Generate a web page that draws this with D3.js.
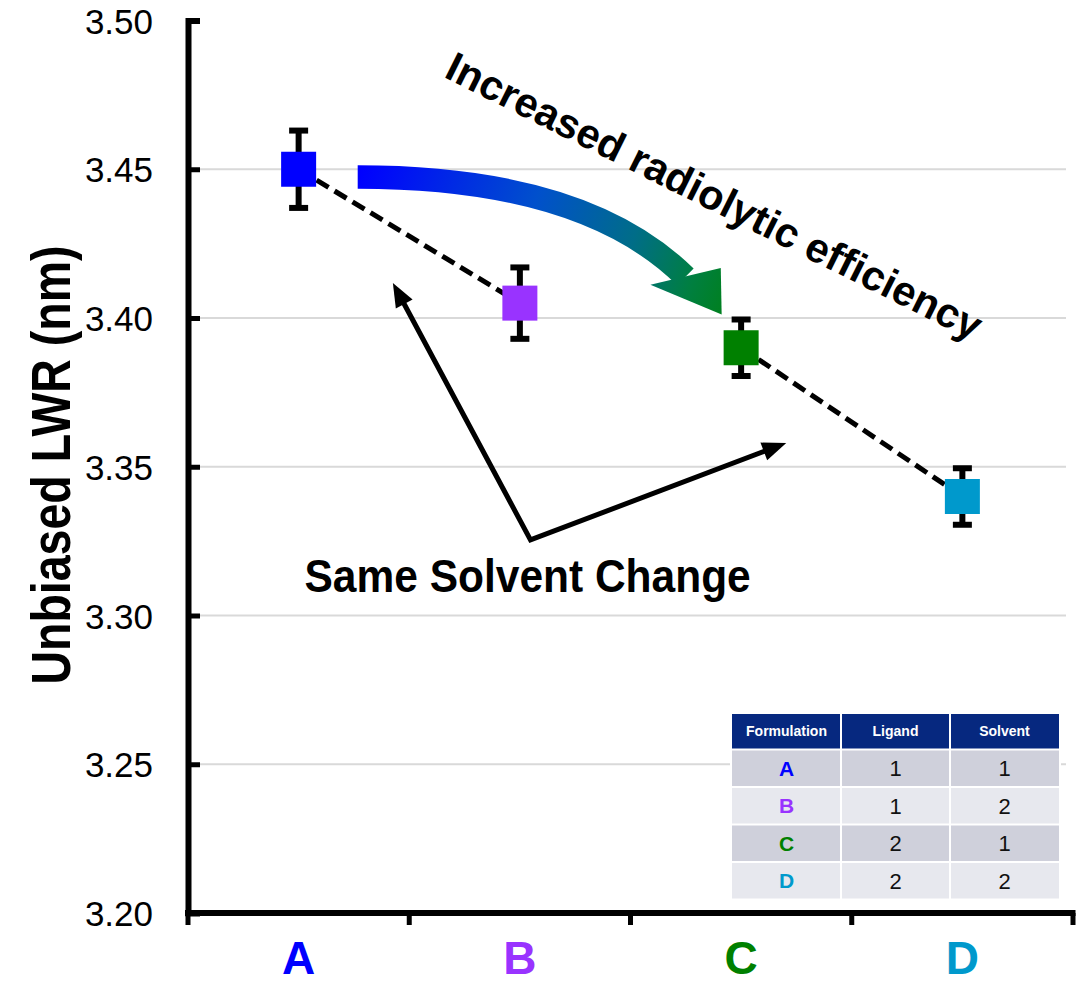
<!DOCTYPE html>
<html>
<head>
<meta charset="utf-8">
<script src="https://cdn.jsdelivr.net/npm/d3@7"></script>
<style>
  body { margin: 0; background: #fff; }
  svg { display: block; font-family: Arial, "Liberation Sans", sans-serif; }
</style>
</head>
<body>
<svg id="chart" width="1076" height="985"></svg>
<script>
// data
const cats = ['A', 'B', 'C', 'D'];
const lwr = [3.450, 3.405, 3.390, 3.340];
const errUp = [0.013, 0.012, 0.0095, 0.0095];
const errDown = [0.013, 0.012, 0.0095, 0.0095];
const catColors = ['#0000ff', '#9933ff', '#008000', '#0099cc'];
const yTicks = [3.20, 3.25, 3.30, 3.35, 3.40, 3.45, 3.50];
const gridTicks = [3.25, 3.30, 3.35, 3.40, 3.45];
const dashedPairs = [[0, 1], [2, 3]];

const tableHeader = ['Formulation', 'Ligand', 'Solvent'];
const ligand = [1, 1, 2, 2];
const solvent = [1, 2, 1, 2];

const svg = d3.select('#chart');

const x = d3.scaleBand().domain(cats).range([188, 1073]).padding(0);
const y = d3.scaleLinear().domain([3.20, 3.50]).range([913, 20.5]);

// fractional category index -> pixel, for annotations
const xi = i => x(cats[0]) + x.bandwidth() / 2 + i * x.step();
const pt = ([i, v]) => [xi(i), y(v)];

// gridlines
svg.append('g')
  .selectAll('line')
  .data(gridTicks)
  .join('line')
  .attr('x1', 188).attr('x2', 1066)
  .attr('y1', d => y(d)).attr('y2', d => y(d))
  .attr('stroke', '#d9d9d9')
  .attr('stroke-width', 2);

// dashed connectors
svg.append('g')
  .selectAll('line')
  .data(dashedPairs)
  .join('line')
  .attr('x1', d => x(cats[d[0]]) + x.bandwidth() / 2)
  .attr('y1', d => y(lwr[d[0]]))
  .attr('x2', d => x(cats[d[1]]) + x.bandwidth() / 2)
  .attr('y2', d => y(lwr[d[1]]))
  .attr('stroke', '#000')
  .attr('stroke-width', 5)
  .attr('stroke-dasharray', '14,7');

// error bars
const eb = svg.append('g').attr('stroke', '#000').attr('stroke-width', 6);
cats.forEach((c, i) => {
  const cx = x(c) + x.bandwidth() / 2;
  const top = y(lwr[i] + errUp[i]);
  const bot = y(lwr[i] - errDown[i]);
  eb.append('line').attr('x1', cx).attr('x2', cx).attr('y1', top).attr('y2', bot);
  eb.append('line').attr('x1', cx - 9.5).attr('x2', cx + 9.5).attr('y1', top).attr('y2', top);
  eb.append('line').attr('x1', cx - 9.5).attr('x2', cx + 9.5).attr('y1', bot).attr('y2', bot);
});

// markers
const MS = 35;
svg.append('g')
  .selectAll('rect')
  .data(cats)
  .join('rect')
  .attr('x', d => x(d) + x.bandwidth() / 2 - MS / 2)
  .attr('y', (d, i) => y(lwr[i]) - MS / 2)
  .attr('width', MS).attr('height', MS)
  .attr('fill', (d, i) => catColors[i]);

// y axis
const yAxis = svg.append('g')
  .attr('transform', 'translate(188,0)')
  .call(d3.axisLeft(y)
    .tickValues(yTicks)
    .tickFormat(d3.format('.2f'))
    .tickSizeInner(-12)
    .tickSizeOuter(-12)
    .tickPadding(35));
yAxis.select('.domain').attr('stroke-width', 6);
yAxis.selectAll('.tick line').attr('stroke-width', 5);
yAxis.selectAll('.tick text')
  .attr('font-size', 35)
  .attr('font-family', 'Arial, "Liberation Sans", sans-serif')
  .attr('fill', '#000')
  .attr('dy', '0.36em');

// x axis: line, ticks at band edges, coloured labels
const edges = d3.range(cats.length + 1).map(i => x.range()[0] + i * x.step());
const xg = svg.append('g');
xg.append('line')
  .attr('x1', edges[0] - 3).attr('x2', edges[edges.length - 1] + 2.5)
  .attr('y1', y(3.20)).attr('y2', y(3.20))
  .attr('stroke', '#000').attr('stroke-width', 6);
xg.selectAll('line.edge')
  .data(edges)
  .join('line')
  .attr('class', 'edge')
  .attr('x1', d => d).attr('x2', d => d)
  .attr('y1', y(3.20)).attr('y2', y(3.20) + 12)
  .attr('stroke', '#000').attr('stroke-width', 5);
xg.selectAll('text')
  .data(cats)
  .join('text')
  .attr('x', d => x(d) + x.bandwidth() / 2)
  .attr('y', 974)
  .attr('text-anchor', 'middle')
  .attr('font-size', 46)
  .attr('font-weight', 'bold')
  .attr('fill', (d, i) => catColors[i])
  .text(d => d);

// y axis title
svg.append('text')
  .attr('transform', 'translate(70,465) rotate(-90) scale(1,1.2)')
  .attr('text-anchor', 'middle')
  .attr('font-size', 46.5)
  .attr('font-weight', 'bold')
  .text('Unbiased LWR (nm)');

// curved gradient arrow
const defs = svg.append('defs');
const grad = defs.append('linearGradient')
  .attr('id', 'arrowGrad')
  .attr('gradientUnits', 'userSpaceOnUse');
const gStart = pt([0.267, 3.4474]);
const gEnd = pt([1.911, 3.4014]);
grad.attr('x1', gStart[0]).attr('y1', gStart[1]).attr('x2', gEnd[0]).attr('y2', gEnd[1]);
grad.selectAll('stop')
  .data([[0, '#0000ff'], [0.45, '#0050cc'], [0.72, '#006d88'], [0.9, '#007f40'], [1, '#008020']])
  .join('stop')
  .attr('offset', d => d[0])
  .attr('stop-color', d => d[1]);

const s0 = pt([0.267, 3.4474]);
const s1 = pt([1.292, 3.4474]);
const s2 = pt([1.748, 3.4138]);
const shaft = d3.path();
shaft.moveTo(s0[0], s0[1]);
shaft.quadraticCurveTo(s1[0], s1[1], s2[0], s2[1]);
svg.append('path')
  .attr('d', shaft.toString())
  .attr('fill', 'none')
  .attr('stroke', 'url(#arrowGrad)')
  .attr('stroke-width', 23.5);
const head = [pt([1.590, 3.4112]), pt([1.908, 3.4168]), pt([1.912, 3.4012])];
svg.append('path')
  .attr('d', 'M' + head.map(p => p.join(',')).join('L') + 'Z')
  .attr('fill', 'url(#arrowGrad)');

svg.append('text')
  .attr('transform', () => {
    const p = pt([1.85, 3.4367]);
    return `translate(${p[0]},${p[1]}) rotate(26.5)`;
  })
  .attr('text-anchor', 'middle')
  .attr('font-size', 41.5)
  .attr('font-weight', 'bold')
  .text('Increased radiolytic efficiency');

// "Same Solvent Change" arrows
const vtx = pt([1.048, 3.3254]);
const tips = [pt([0.426, 3.4118]), pt([2.204, 3.358])];
const HL = 24, HW = 19;
const shortTip = tips.map(t => {
  const dx = t[0] - vtx[0], dy = t[1] - vtx[1];
  const len = Math.hypot(dx, dy);
  const u = [dx / len, dy / len];
  return { u, n: [-u[1], u[0]], end: [t[0] - u[0] * (HL - 4), t[1] - u[1] * (HL - 4)], tip: t };
});
svg.append('path')
  .attr('d', `M${shortTip[0].end}L${vtx}L${shortTip[1].end}`)
  .attr('fill', 'none')
  .attr('stroke', '#000')
  .attr('stroke-width', 5)
  .attr('stroke-linejoin', 'miter');
svg.append('g')
  .selectAll('path')
  .data(shortTip)
  .join('path')
  .attr('d', d => {
    const b = [d.tip[0] - d.u[0] * HL, d.tip[1] - d.u[1] * HL];
    const l = [b[0] + d.n[0] * HW / 2, b[1] + d.n[1] * HW / 2];
    const r = [b[0] - d.n[0] * HW / 2, b[1] - d.n[1] * HW / 2];
    return `M${d.tip}L${l}L${r}Z`;
  })
  .attr('fill', '#000');

svg.append('text')
  .attr('transform', () => {
    const p = pt([1.035, 3.3079]);
    return `translate(${p[0]},${p[1]}) scale(1,1.1)`;
  })
  .attr('text-anchor', 'middle')
  .attr('font-size', 42.5)
  .attr('font-weight', 'bold')
  .text('Same Solvent Change');

// formulation table
const T = { x: 732, y: 714, colW: 109, headH: 34.5, rowH: 37.5, gap: 2 };
const tbl = svg.append('g');
tbl.append('rect')
  .attr('x', T.x - 2).attr('y', T.y - 2)
  .attr('width', T.colW * 3 + 4)
  .attr('height', T.headH + T.rowH * cats.length + 4)
  .attr('fill', '#fff');
tableHeader.forEach((h, j) => {
  tbl.append('rect')
    .attr('x', T.x + j * T.colW + (j ? T.gap / 2 : 0))
    .attr('y', T.y)
    .attr('width', T.colW - (j ? T.gap / 2 : 0) - (j < 2 ? T.gap / 2 : 0))
    .attr('height', T.headH)
    .attr('fill', '#06287f');
  tbl.append('text')
    .attr('x', T.x + j * T.colW + T.colW / 2)
    .attr('y', T.y + T.headH / 2)
    .attr('dy', '0.36em')
    .attr('text-anchor', 'middle')
    .attr('font-size', 14)
    .attr('font-weight', 'bold')
    .attr('fill', '#fff')
    .text(h);
});
cats.forEach((c, i) => {
  const ry = T.y + T.headH + T.gap + i * T.rowH;
  const cells = [c, ligand[i], solvent[i]];
  cells.forEach((v, j) => {
    tbl.append('rect')
      .attr('x', T.x + j * T.colW + (j ? T.gap / 2 : 0))
      .attr('y', ry)
      .attr('width', T.colW - (j ? T.gap / 2 : 0) - (j < 2 ? T.gap / 2 : 0))
      .attr('height', T.rowH - T.gap)
      .attr('fill', i % 2 === 0 ? '#cfd0db' : '#e7e8ee');
    tbl.append('text')
      .attr('x', T.x + j * T.colW + T.colW / 2)
      .attr('y', ry + (T.rowH - T.gap) / 2)
      .attr('dy', '0.36em')
      .attr('text-anchor', 'middle')
      .attr('font-size', j === 0 ? 21 : 22)
      .attr('font-weight', j === 0 ? 'bold' : 'normal')
      .attr('fill', j === 0 ? catColors[i] : '#111')
      .text(v);
  });
});
</script>
</body>
</html>
